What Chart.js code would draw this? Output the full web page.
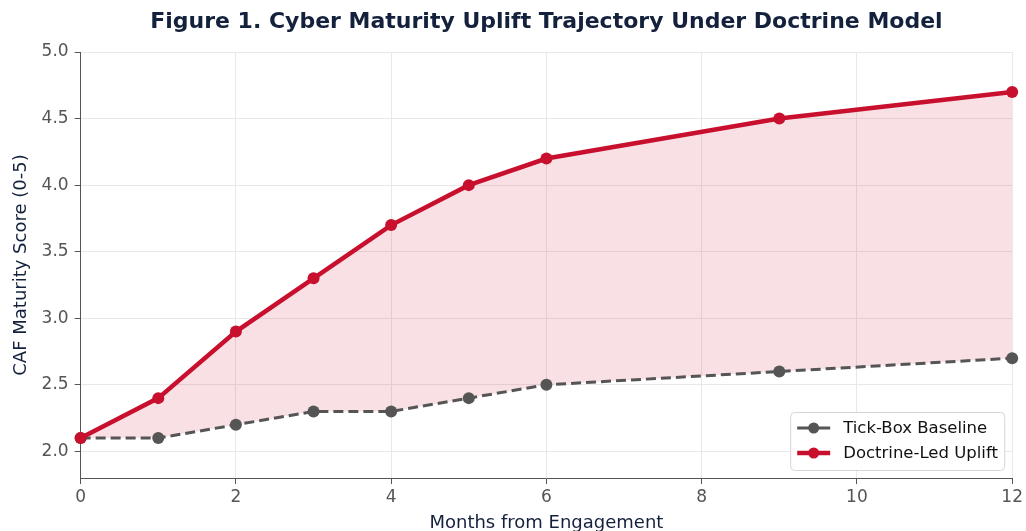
<!DOCTYPE html>
<html>
<head>
<meta charset="utf-8">
<script src="https://cdn.jsdelivr.net/npm/chart.js@4.4.1/dist/chart.umd.min.js"></script>
<style>
  html, body { margin: 0; padding: 0; background: #ffffff; }
  #wrap { width: 1026px; height: 531px; position: relative; }
</style>
</head>
<body>
<div id="wrap"><canvas id="chart" width="1026" height="531"></canvas></div>
<script>
const months = [0, 1, 2, 3, 4, 5, 6, 9, 12];
const baselineScores = [2.1, 2.1, 2.2, 2.3, 2.3, 2.4, 2.5, 2.6, 2.7];
const doctrineScores = [2.1, 2.4, 2.9, 3.3, 3.7, 4.0, 4.2, 4.5, 4.7];
const yTickValues = [2.0, 2.5, 3.0, 3.5, 4.0, 4.5, 5.0];

const titleText = 'Figure 1. Cyber Maturity Uplift Trajectory Under Doctrine Model';
const seriesNames = ['Tick-Box Baseline', 'Doctrine-Led Uplift'];

const RED = '#c8102e';
const GREY = '#555555';
const NAVY = '#14213d';
const FONT = '"DejaVu Sans", sans-serif';

function toPoints(xs, ys) {
  return xs.map((x, i) => ({ x, y: ys[i] }));
}

// title centred over the plot area, like the original
const titlePlugin = {
  id: 'plotTitle',
  afterDraw(chart) {
    const { ctx, chartArea } = chart;
    ctx.save();
    ctx.font = `bold 22px ${FONT}`;
    ctx.fillStyle = NAVY;
    ctx.textAlign = 'center';
    ctx.textBaseline = 'middle';
    ctx.fillText(titleText, (chartArea.left + chartArea.right) / 2, 22);
    ctx.restore();
  }
};

// legend box in the lower right of the plot
const legendPlugin = {
  id: 'innerLegend',
  afterDraw(chart) {
    const { ctx, chartArea } = chart;
    const w = 214, h = 58;
    const x = chartArea.right - w - 8;
    const y = chartArea.bottom - h - 8;
    ctx.save();
    ctx.fillStyle = 'rgba(255,255,255,0.85)';
    ctx.strokeStyle = '#d6d6d6';
    ctx.lineWidth = 1;
    ctx.beginPath();
    ctx.roundRect(x + 0.5, y + 0.5, w, h, 4);
    ctx.fill();
    ctx.stroke();

    const rows = [
      { label: seriesNames[0], color: GREY, width: 3 },
      { label: seriesNames[1], color: RED, width: 4.5 }
    ];
    rows.forEach((row, i) => {
      const cy = y + 16 + i * 25;
      ctx.strokeStyle = row.color;
      ctx.lineWidth = row.width;
      ctx.beginPath();
      ctx.moveTo(x + 7, cy);
      ctx.lineTo(x + 40, cy);
      ctx.stroke();
      ctx.fillStyle = row.color;
      ctx.beginPath();
      ctx.arc(x + 23.5, cy, 5.5, 0, Math.PI * 2);
      ctx.fill();
      ctx.fillStyle = '#111111';
      ctx.font = `16.5px ${FONT}`;
      ctx.textAlign = 'left';
      ctx.textBaseline = 'middle';
      ctx.fillText(row.label, x + 53, cy + 1);
    });
    ctx.restore();
  }
};

new Chart(document.getElementById('chart'), {
  type: 'line',
  data: {
    datasets: [
      {
        label: seriesNames[0],
        data: toPoints(months, baselineScores),
        borderColor: GREY,
        backgroundColor: GREY,
        borderWidth: 3,
        borderDash: [10, 5],
        pointRadius: 6,
        pointHoverRadius: 6,
        pointBackgroundColor: GREY,
        pointBorderWidth: 0,
        fill: false,
        tension: 0,
        clip: false,
        order: 2
      },
      {
        label: seriesNames[1],
        data: toPoints(months, doctrineScores),
        borderColor: RED,
        backgroundColor: 'rgba(200,16,46,0.13)',
        borderWidth: 4.5,
        pointRadius: 6,
        pointHoverRadius: 6,
        pointBackgroundColor: RED,
        pointBorderWidth: 0,
        fill: '-1',
        tension: 0,
        clip: false,
        order: 1
      }
    ]
  },
  options: {
    responsive: false,
    animation: false,
    layout: { padding: { top: 52, right: -3, left: 11, bottom: -3 } },
    plugins: {
      legend: { display: false },
      title: { display: false },
      tooltip: { enabled: false },
      filler: { drawTime: 'beforeDatasetsDraw' }
    },
    scales: {
      x: {
        type: 'linear',
        min: 0,
        max: 12,
        ticks: {
          stepSize: 2,
          color: '#555555',
          font: { family: FONT, size: 17 },
          padding: 3
        },
        grid: { color: '#e8e8e8', tickColor: '#555555', tickLength: 6 },
        border: { color: '#555555', width: 1 },
        title: {
          display: true,
          text: 'Months from Engagement',
          color: NAVY,
          font: { family: FONT, size: 18 },
          padding: { top: 2, bottom: 0 }
        }
      },
      y: {
        min: 1.8,
        max: 5.0,
        afterBuildTicks(scale) {
          scale.ticks = yTickValues.map((v) => ({ value: v }));
        },
        ticks: {
          color: '#555555',
          font: { family: FONT, size: 17 },
          padding: 6,
          callback: (v) => Number(v).toFixed(1)
        },
        grid: { color: '#e8e8e8', tickColor: '#555555', tickLength: 6 },
        border: { color: '#555555', width: 1 },
        title: {
          display: true,
          text: 'CAF Maturity Score (0-5)',
          color: NAVY,
          font: { family: FONT, size: 18 },
          padding: { top: 0, bottom: 3 }
        }
      }
    }
  },
  plugins: [titlePlugin, legendPlugin]
});
</script>
</body>
</html>
